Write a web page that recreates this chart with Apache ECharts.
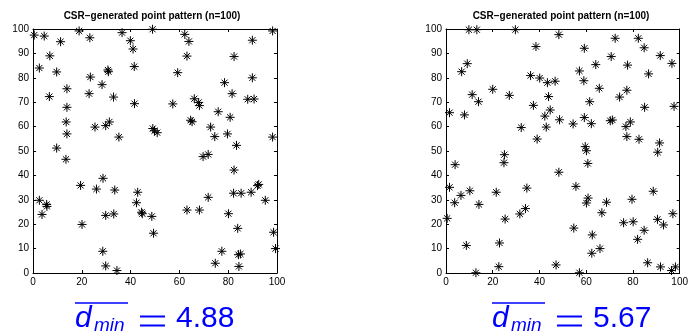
<!DOCTYPE html>
<html><head><meta charset="utf-8">
<script src="https://cdn.jsdelivr.net/npm/echarts@6/dist/echarts.min.js"></script>
<style>html,body{margin:0;padding:0;background:#fff}#c{width:691px;height:336px}</style>
</head><body><div id="c"></div>
<script>
const titleText = 'CSR\u2212generated point pattern (n=100)';
const axisMin = 0, axisMax = 100;
const xInterval = 20, yInterval = 10;
const leftStat = '4.88';
const rightStat = '5.67';

const leftPoints = [
[0.5,97.5],[4.6,97.1],[2.6,84],[6.9,89],[6.7,72.3],[9.7,82.4],[11.3,94.8],[13.9,75.5],[13.9,67.9],[13.6,61.9],
[13.9,57],[18.9,99.2],[23.3,96.4],[23.5,80.3],[23,73.5],[25.4,59.8],[28.3,77.2],[30.9,82.5],[30.7,83.2],[33,72.1],
[29.8,60.4],[31.3,61.9],[35.2,55.7],[36.5,98.5],[39.9,95.2],[41,91.8],[41.5,84.6],[41.6,69.4],[49,99.9],[49.1,59.2],
[49.8,58.3],[50.9,57.5],[57.3,69.3],[59.3,82.1],[62.2,97.8],[63.9,94.9],[63.1,88.9],[66.1,71.4],[67.9,69.9],[68.2,68.6],
[64.6,62.6],[65.2,62],[72.8,59.8],[74.5,55.9],[75.9,66.1],[78.5,78],[81.6,73.5],[82.4,88.7],[80.8,63.8],[79.7,57],
[83.4,52.3],[88,71.2],[90.6,71.3],[89.9,80],[89.9,95.4],[98.2,99.2],[98.2,55.7],
[9.7,51.2],[13.5,46.6],[2.6,29.8],[3.7,24],[5.6,28.1],[5.7,27.3],[19.5,35.9],[20.1,19.9],[26,34.4],[28.7,38.8],
[28.6,8.9],[29.8,23.6],[29.8,2.9],[33.5,34],[33.1,24.2],[34.4,1],[42.9,33.1],[42.4,28.8],[44.5,24.9],[44.8,24.3],
[48.7,23.2],[49.4,16.3],[63.1,25.8],[68.2,25.8],[69.7,47.7],[71.8,48.6],[71.8,31],[74.7,4],[77.4,8.9],[80.1,24.3],
[82.4,42.2],[82.2,32.7],[83.9,18.3],[85.3,32.7],[84.2,7.5],[85,7.8],[84.4,2.7],[89.4,33.1],[92,35.8],[92.5,36.3],
[95.2,29.8],[98.6,16.7],[99.4,10]
];

const rightPoints = [
[1.5,65.7],[6.7,82.5],[9.1,85.8],[7.9,64.8],[9.8,99.7],[13.2,99.7],[11.2,73.1],[13.9,70.2],[20,75.3],[27.1,72.8],
[29.7,99.7],[32.2,59.6],[36.2,80.9],[37.4,68.7],[38.5,92.8],[39,54.9],[40.1,79.9],[43.4,78],[43.9,72.3],[42.3,64.3],
[42.9,59.8],[44.6,66.8],[46.7,78.6],[48.3,97.7],[48.6,62.8],[54.4,61.1],[57.1,82.8],[59.2,92.1],[59,78.8],[59.2,63.7],
[61.5,70.2],[62.2,61.2],[64.1,85.4],[65.6,75.7],[70.7,88.7],[72.4,96.2],[70.3,62.4],[71.2,62.7],[74.3,72.1],[77.4,74.9],
[77.7,85.2],[77,60],[78.9,61.9],[77.4,55.9],[82.3,96.2],[84.8,92.3],[86.7,81.6],[85,67.9],[82.6,54.8],[91.7,89.1],
[91.4,53.3],[96.7,85.9],[97.6,68.3],
[0.5,22.4],[1.5,35.1],[3.9,44.4],[3.7,28.8],[6.4,31.8],[10.2,33.7],[8.7,11.3],[14.1,28.1],[12.8,0.1],[21.5,33.1],
[22.9,12.3],[22.6,2.6],[25,48.5],[24.8,45.2],[25.3,22.1],[31.6,24.2],[34,26.4],[34.6,34.8],[48.3,41.3],[47.1,3.3],
[54.7,18.4],[55.6,35.5],[57.1,0.1],[59.6,51.8],[60.1,50.1],[60.7,44.9],[60.8,30.7],[60.1,28.7],[62.6,15.6],[62.4,8.1],
[65.9,10],[66.7,24.7],[68.7,29],[76,20.6],[79.6,30.2],[80.1,21],[82,13.8],[84.8,17.5],[86.3,4.2],[88.7,33.5],
[90.6,49.5],[90.5,22],[93.1,19.7],[91.8,2.5],[96.5,1],[97.1,24.3],[98.2,2.5]
];

const FONT = 'Liberation Sans, Arial, Helvetica, sans-serif';
const grids = [
  {left: 33, top: 29, width: 244, height: 244},
  {left: 446, top: 29, width: 244, height: 244}
];
const star = 'path://M5,0L5,10M0,5L10,5M1.6,1.6L8.4,8.4M1.6,8.4L8.4,1.6';

function xAxisDef(gi, pos, showLabel) {
  return {
    type: 'value', gridIndex: gi, position: pos, min: axisMin, max: axisMax, interval: xInterval,
    axisLine: {show: true, onZero: false, lineStyle: {color: '#000', width: 1}},
    axisTick: {show: true, inside: true, length: 3, lineStyle: {color: '#000'}},
    axisLabel: {show: showLabel, color: '#000', fontSize: 10, fontFamily: FONT, margin: 4},
    splitLine: {show: false}
  };
}
function yAxisDef(gi, pos, showLabel) {
  return {
    type: 'value', gridIndex: gi, position: pos, min: axisMin, max: axisMax, interval: yInterval,
    axisLine: {show: true, onZero: false, lineStyle: {color: '#000', width: 1}},
    axisTick: {show: true, inside: true, length: 3, lineStyle: {color: '#000'}},
    axisLabel: {show: showLabel, color: '#000', fontSize: 10, fontFamily: FONT, margin: 4},
    splitLine: {show: false}
  };
}

function statGraphic(x0, val) {
  const blue = '#0000ff';
  return [
    {type: 'text', x: x0, y: 319, style: {text: 'd', font: 'italic 30px ' + FONT, fill: blue, align: 'left', verticalAlign: 'middle'}},
    {type: 'text', x: x0 + 19, y: 326, style: {text: 'min', font: 'italic 19px ' + FONT, fill: blue, align: 'left', verticalAlign: 'middle'}},
    {type: 'line', shape: {x1: x0, y1: 303, x2: x0 + 53, y2: 303}, style: {stroke: blue, lineWidth: 1.5}},
    {type: 'line', shape: {x1: x0 + 65, y1: 316.5, x2: x0 + 90, y2: 316.5}, style: {stroke: blue, lineWidth: 2}},
    {type: 'line', shape: {x1: x0 + 65, y1: 325.5, x2: x0 + 90, y2: 325.5}, style: {stroke: blue, lineWidth: 2}},
    {type: 'text', x: x0 + 101, y: 319, style: {text: val, font: '30px ' + FONT, fill: blue, align: 'left', verticalAlign: 'middle'}}
  ];
}

const chart = echarts.init(document.getElementById('c'), null, {renderer: 'canvas'});
chart.setOption({
  backgroundColor: '#fff',
  animation: false,
  grid: grids,
  xAxis: [xAxisDef(0, 'bottom', true), xAxisDef(0, 'top', false), xAxisDef(1, 'bottom', true), xAxisDef(1, 'top', false)],
  yAxis: [yAxisDef(0, 'left', true), yAxisDef(0, 'right', false), yAxisDef(1, 'left', true), yAxisDef(1, 'right', false)],
  series: [
    {type: 'scatter', xAxisIndex: 0, yAxisIndex: 0, data: leftPoints, symbol: star, symbolSize: 9, clip: false,
     itemStyle: {color: 'rgba(0,0,0,0)', borderColor: '#000', borderWidth: 1, opacity: 1}},
    {type: 'scatter', xAxisIndex: 2, yAxisIndex: 2, data: rightPoints, symbol: star, symbolSize: 9, clip: false,
     itemStyle: {color: 'rgba(0,0,0,0)', borderColor: '#000', borderWidth: 1, opacity: 1}}
  ],
  graphic: [
    {type: 'text', x: 152, y: 16, style: {text: titleText, font: 'bold 10px ' + FONT, fill: '#000', align: 'center', verticalAlign: 'middle'}},
    {type: 'text', x: 561, y: 16, style: {text: titleText, font: 'bold 10px ' + FONT, fill: '#000', align: 'center', verticalAlign: 'middle'}}
  ].concat(statGraphic(75, leftStat), statGraphic(492, rightStat))
});
</script></body></html>
